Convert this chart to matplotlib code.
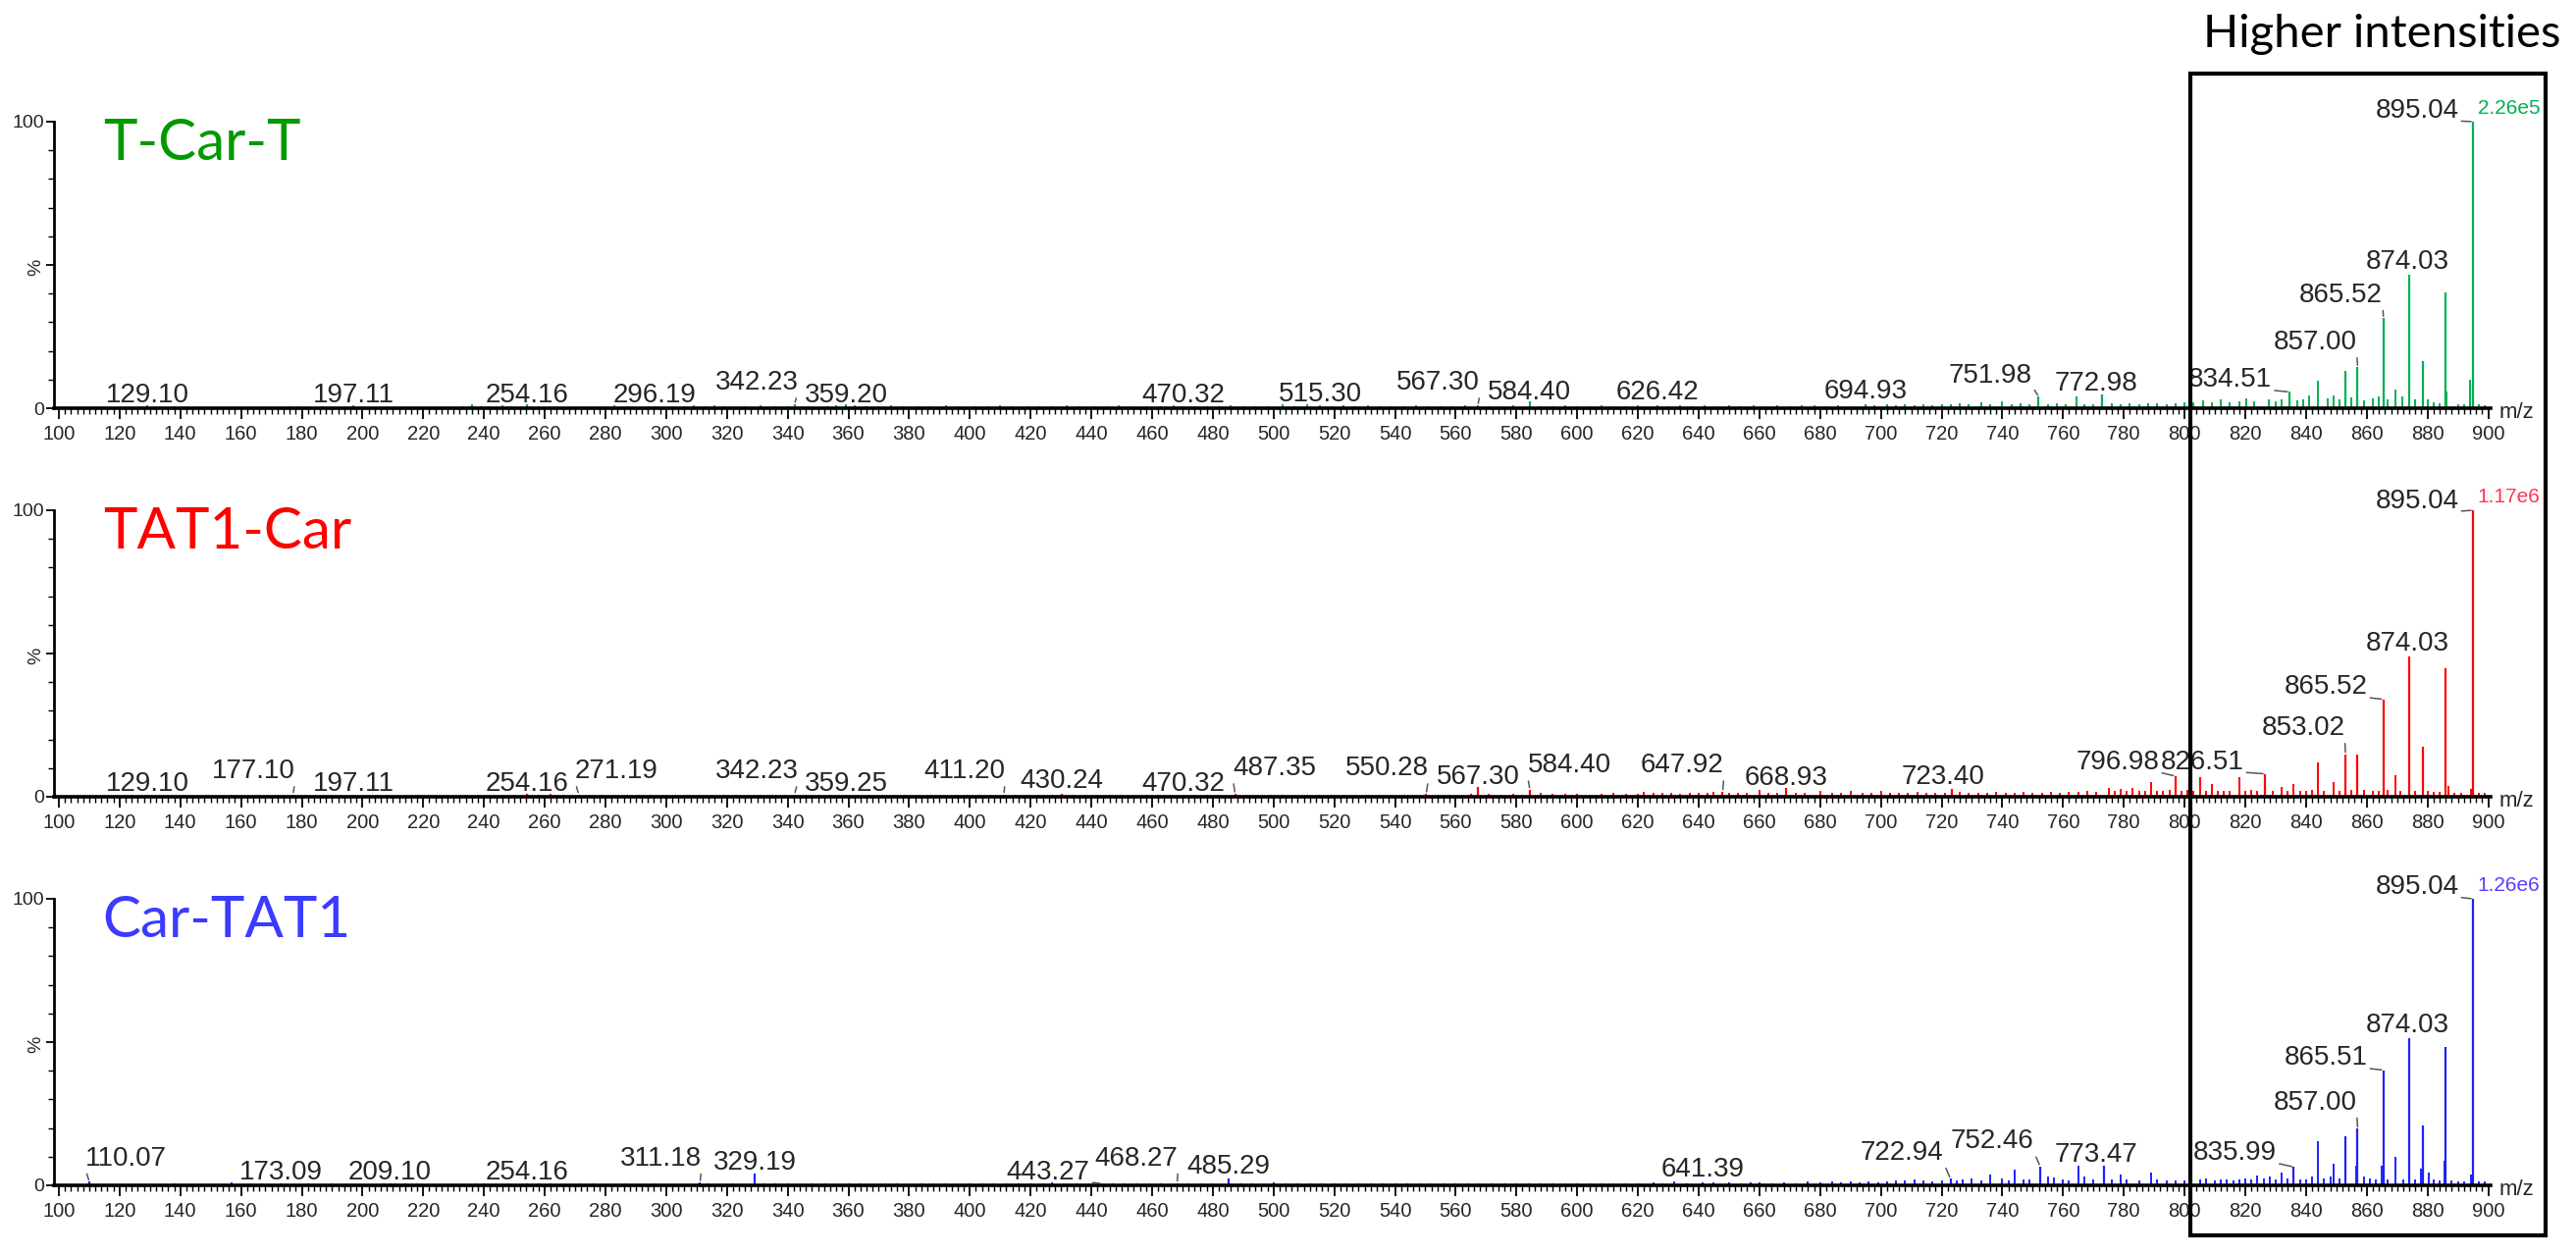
import matplotlib

matplotlib.use('Agg')
import matplotlib.pyplot as plt
from matplotlib.patches import Rectangle

# ---------------------------------------------------------
# DATA (m/z, relative intensity %)
# ---------------------------------------------------------
names = ['T-Car-T', 'TAT1-Car', 'Car-TAT1']
base_peak = ['2.26e5', '1.17e6', '1.26e6']

# T-Car-T
tct_mz = [129.10, 197.11, 254.16, 296.19, 342.23, 359.20, 470.32, 515.30, 567.30, 584.40,
          626.42, 694.93, 751.98, 772.98, 834.51, 853.02, 857.00, 865.52, 874.03, 878.53,
          886.03, 895.04]
tct_int = [1.0, 1.0, 1.2, 0.8, 1.5, 1.2, 0.8, 1.0, 1.0, 2.5,
           1.0, 1.2, 4.0, 4.7, 5.7, 13.0, 14.3, 31.4, 46.5, 16.6,
           40.3, 100.0]
tct_noise_mz = [126, 138, 176, 179, 184, 187, 193, 200, 233, 236, 239, 242, 246, 249, 258, 263,
                279, 283, 287, 292, 302, 306, 309, 313, 316, 319, 323, 326, 331, 336, 340, 347,
                353, 356, 362, 366, 370, 374, 378, 383, 387, 392, 396, 402, 406, 410, 414, 419,
                423, 427, 432, 436, 441, 445, 449, 453, 458, 463, 467, 474, 478, 482, 486, 490,
                494, 498, 503, 507, 511, 519, 523, 527, 531, 535, 539, 543, 547, 551, 555, 559,
                563, 571, 575, 579, 588, 592, 596, 600, 604, 608, 612, 616, 620, 630, 634, 638,
                642, 646, 650, 654, 658, 662, 666, 670, 674, 678, 682, 686, 690, 698, 702, 705,
                708, 711, 714, 717, 720, 723, 726, 729, 733, 736, 740, 743, 746, 749, 755, 758,
                761, 764.5, 767, 770, 776, 779, 782, 785, 788, 791, 794, 797, 800, 803, 806, 809,
                812, 815, 818, 820.4, 823, 827.7, 830, 832, 837, 839, 841, 843.9, 847, 849, 851,
                855, 859, 862, 864, 867, 869.5, 871.6, 876, 880, 882, 884, 886.2, 890, 892, 894,
                897, 899]
tct_noise_int = [0.5, 0.6, 0.8, 0.6, 0.5, 0.7, 0.5, 0.6, 0.7, 1.3, 0.8, 0.6, 0.9, 0.7, 0.6, 0.5,
                 0.7, 1.0, 0.6, 0.5, 0.8, 0.6, 0.9, 0.7, 1.0, 0.6, 0.8, 0.7, 0.9, 0.6, 0.7, 0.6,
                 0.8, 1.1, 0.9, 0.6, 0.7, 0.9, 0.6, 0.8, 0.7, 0.9, 0.6, 0.8, 0.6, 0.9, 0.7, 0.6,
                 0.8, 0.7, 0.9, 0.6, 0.8, 0.7, 1.0, 0.6, 0.8, 0.7, 0.9, 0.6, 0.8, 0.7, 1.0, 0.6,
                 0.8, 0.7, 1.2, 0.8, 1.3, 0.7, 0.9, 0.6, 1.0, 0.7, 0.8, 0.6, 0.9, 0.7, 0.8, 0.6,
                 0.9, 0.8, 0.6, 0.9, 0.8, 0.7, 0.9, 0.8, 0.7, 1.0, 0.8, 0.6, 0.9, 0.8, 1.0, 0.7,
                 0.9, 0.7, 1.1, 0.8, 0.9, 0.7, 1.0, 0.8, 1.1, 0.9, 0.7, 1.0, 0.8, 1.0, 1.2, 0.9,
                 1.3, 1.0, 1.4, 1.1, 1.5, 1.2, 1.6, 1.3, 2.0, 1.4, 2.5, 1.5, 1.8, 1.4, 1.3, 1.6,
                 1.4, 4.0, 1.5, 1.3, 1.6, 1.4, 1.7, 1.5, 1.8, 1.6, 1.4, 1.7, 2.0, 2.2, 2.8, 2.0,
                 3.0, 2.2, 2.5, 3.5, 2.4, 3.0, 2.5, 3.0, 2.6, 3.2, 4.5, 9.7, 3.5, 4.5, 3.0,
                 3.6, 2.8, 3.5, 4.0, 3.0, 6.5, 4.0, 3.2, 3.0, 2.0, 1.8, 5.7, 1.2, 1.5, 10.0,
                 1.2, 1.0]

# TAT1-Car
tc_mz = [129.10, 177.10, 197.11, 254.16, 271.19, 342.23, 359.25, 411.20, 430.24, 470.32,
         487.35, 550.28, 567.30, 584.40, 647.92, 668.93, 723.40, 796.98, 826.51, 853.02,
         857.00, 865.52, 874.03, 878.53, 886.03, 895.04]
tc_int = [0.8, 0.8, 0.8, 0.9, 0.8, 0.8, 0.7, 0.8, 0.9, 0.8,
          1.0, 1.0, 3.5, 2.5, 1.8, 3.0, 2.8, 7.2, 8.0, 14.8,
          14.8, 34.0, 48.9, 17.6, 44.9, 100.0]
tc_noise_mz = [112, 124, 133, 141, 150, 157, 166, 171, 181, 186, 193, 205, 208, 213, 219, 226,
               234, 238, 242, 246, 250, 258, 262, 266, 275, 279, 283, 287, 291, 295, 299, 303,
               307, 311, 315, 319, 323, 327, 331, 335, 339, 346, 350, 354, 363, 367, 371, 375,
               379, 383, 387, 391, 395, 399, 403, 407, 415, 419, 423, 427, 434, 438, 442, 446,
               450, 454, 458, 462, 466, 474, 478, 482, 491, 495, 499, 503, 507, 511, 515, 519,
               523, 527, 531, 535, 539, 543, 546, 554, 558, 562, 565, 571, 575, 579, 588, 592,
               596, 600, 604, 608, 612, 616, 620, 622, 625, 628, 631, 634, 637, 640, 643, 645,
               650, 653, 656, 660, 663, 666, 672, 675, 680, 684, 687, 690, 694, 697, 700, 703,
               706, 709, 712, 715, 718, 721, 726, 729, 732, 735, 738, 741, 744, 747, 750, 753,
               756, 759, 762, 765, 768, 771, 775, 777, 779, 781, 783, 785, 787, 789, 791, 793,
               795, 799, 801, 803, 805, 807, 809, 811, 813, 815, 818, 820, 822, 824, 829, 832,
               834, 836, 838, 840, 842, 844, 846, 849, 851, 855, 859, 862, 864, 867, 869.5, 871,
               876, 880, 882, 884, 886.9, 889, 891, 894.2, 897, 899]
tc_noise_int = [0.5, 0.6, 0.5, 0.6, 0.5, 0.6, 0.5, 0.7, 0.6, 0.5, 0.7, 0.8, 0.6, 0.5, 0.6, 0.5,
                0.6, 0.7, 0.5, 0.8, 0.6, 0.7, 0.9, 0.6, 0.7, 0.8, 0.6, 0.7, 0.6, 0.8, 0.6, 0.7,
                0.6, 0.8, 0.6, 0.7, 0.6, 0.8, 0.6, 0.7, 0.6, 0.8, 0.6, 0.7, 0.8, 0.6, 0.7, 0.6,
                0.8, 0.6, 0.7, 0.6, 0.8, 0.6, 0.7, 0.6, 0.8, 0.6, 0.7, 0.6, 0.8, 0.6, 0.7, 0.6,
                0.8, 0.6, 0.7, 0.6, 0.8, 0.7, 0.6, 0.8, 0.7, 0.6, 0.8, 0.6, 0.7, 0.6, 0.8, 0.6,
                0.7, 0.6, 0.8, 0.6, 0.7, 0.6, 0.8, 0.7, 0.6, 0.8, 0.9, 1.0, 0.8, 1.1, 1.2, 0.9,
                1.0, 0.9, 0.8, 1.0, 1.2, 0.9, 1.1, 1.6, 1.5, 1.2, 1.5, 1.1, 1.3, 1.5, 1.2, 1.6,
                1.3, 1.2, 1.4, 2.5, 1.3, 1.2, 1.4, 1.2, 2.0, 1.3, 1.2, 2.0, 1.3, 1.4, 2.0, 1.4,
                1.5, 1.3, 1.6, 1.4, 1.5, 1.3, 1.6, 1.4, 1.5, 1.3, 1.6, 1.5, 1.4, 1.6, 1.5, 1.4,
                1.6, 1.5, 1.7, 1.6, 2.0, 1.8, 3.2, 2.0, 2.8, 2.2, 3.0, 2.0, 2.2, 5.0, 2.2, 2.0,
                2.5, 2.0, 2.5, 2.0, 6.8, 2.2, 4.5, 2.0, 2.0, 2.2, 6.8, 2.0, 2.5, 2.2, 2.0, 3.4,
                2.2, 4.5, 2.0, 2.0, 2.5, 12.0, 2.2, 5.0, 2.0, 2.5, 2.5, 2.0, 2.2, 2.5, 7.4, 2.0,
                2.0, 2.0, 1.8, 1.8, 3.7, 1.5, 1.5, 2.8, 1.3, 1.2]

# Car-TAT1
ct_mz = [110.07, 173.09, 209.10, 254.16, 311.18, 329.19, 443.27, 468.27, 485.29, 641.39,
         722.94, 752.46, 773.47, 835.99, 853.02, 857.00, 865.51, 874.03, 878.53, 886.03,
         895.04]
ct_int = [1.2, 0.8, 0.8, 0.7, 1.0, 4.0, 0.7, 0.8, 2.5, 1.0,
          2.3, 6.6, 6.8, 6.4, 17.0, 19.7, 40.2, 51.3, 21.0, 48.2,
          100.0]
ct_noise_mz = [138, 157, 167, 182, 186, 190, 203, 207, 211, 214, 218, 237, 240, 244, 248, 258,
               262, 266, 272, 276, 280, 286, 290, 296, 300, 314, 318, 322, 332, 336, 340, 344,
               348, 352, 356, 360, 364, 368, 372, 376, 380, 384, 388, 392, 396, 400, 404, 408,
               412, 416, 420, 424, 427, 431, 435, 439, 447, 451, 455, 459, 463, 472, 476, 480,
               489, 493, 497, 500, 504, 508, 512, 516, 520, 524, 528, 532, 536, 540, 544, 548,
               552, 556, 560, 564, 568, 572, 576, 580, 584, 588, 592, 596, 600, 604, 608, 612,
               616, 620, 625, 628, 632, 636, 645, 650, 654, 657, 660, 664, 668, 672, 676, 680,
               684, 687, 690, 693, 696, 699, 702, 705, 708, 711, 714, 717, 720, 725, 727, 730,
               733, 736, 740, 742, 744, 747, 749, 755, 757, 760, 762, 765, 767, 770, 776, 779,
               781, 785, 789, 791, 794, 797, 800, 802, 805, 807, 810, 812, 814, 816, 818, 820,
               822, 824, 826, 828, 830, 832, 834, 838, 840, 842, 844, 846, 848, 849, 851, 856.5,
               859, 861, 863, 865, 867, 869.5, 872, 876, 878, 880.5, 882, 884, 885.5, 888, 890,
               892, 894.2, 897, 899]
ct_noise_int = [0.6, 1.0, 0.8, 0.6, 0.5, 0.6, 0.5, 0.7, 0.6, 0.8, 0.6, 0.6, 0.7, 0.5, 0.6, 0.6,
                0.7, 0.5, 0.6, 0.7, 0.5, 0.6, 0.5, 0.6, 0.5, 0.6, 0.5, 0.6, 0.6, 0.7, 0.6, 0.5,
                0.7, 0.6, 0.5, 0.7, 0.6, 0.5, 0.7, 0.6, 0.5, 0.6, 0.7, 0.6, 0.5, 0.7, 0.6, 0.7,
                0.6, 0.7, 0.6, 0.7, 1.0, 0.6, 0.7, 0.6, 0.7, 0.6, 0.7, 0.6, 0.7, 0.6, 0.7, 0.6,
                0.7, 0.6, 0.7, 0.9, 0.6, 0.7, 0.6, 0.7, 0.8, 0.6, 0.7, 0.6, 0.7, 0.6, 0.7, 0.6,
                0.7, 0.6, 0.7, 0.6, 0.7, 0.6, 0.7, 0.6, 0.7, 0.6, 0.7, 0.6, 0.8, 0.7, 0.6, 0.7,
                0.6, 0.7, 1.0, 0.8, 1.2, 0.8, 0.9, 1.0, 0.8, 0.9, 1.1, 0.8, 0.9, 0.8, 1.2, 0.9,
                1.3, 1.0, 1.2, 1.0, 1.4, 1.1, 1.5, 1.8, 1.6, 2.0, 1.7, 1.5, 1.8, 1.6, 2.0, 2.5,
                1.8, 3.8, 2.5, 1.8, 5.5, 2.0, 2.2, 3.0, 2.8, 2.0, 1.8, 6.8, 3.0, 2.0, 2.0, 3.8,
                2.0, 1.8, 4.3, 2.0, 1.8, 1.6, 1.8, 1.8, 2.0, 2.5, 1.8, 2.0, 2.2, 1.8, 2.0, 2.5,
                2.0, 3.5, 2.5, 3.0, 2.0, 4.3, 2.5, 2.2, 2.0, 3.0, 15.5, 2.5, 3.0, 7.5, 2.5, 7.0,
                3.0, 2.5, 2.0, 7.0, 2.0, 10.0, 2.0, 2.0, 5.7, 4.3, 2.0, 1.8, 8.5, 1.8, 1.5,
                1.5, 3.8, 1.5, 1.3]

peaks_mz = [tct_mz, tc_mz, ct_mz]
peaks_int = [tct_int, tc_int, ct_int]
noise_mz = [tct_noise_mz, tc_noise_mz, ct_noise_mz]
noise_int = [tct_noise_int, tc_noise_int, ct_noise_int]

# label placement: m/z -> (shift in m/z, label baseline in %); peaks not listed stay unlabelled
label_layout = [
    {129.10: (0, 2), 197.11: (0, 2), 254.16: (0, 2), 296.19: (0, 2),
     342.23: (-12.5, 6.5), 359.20: (0, 2.2), 470.32: (0, 2.2), 515.30: (0, 2.5),
     567.30: (-13, 6.5), 584.40: (0, 3), 626.42: (0, 3), 694.93: (0, 3.5),
     751.98: (-16, 9), 772.98: (-2, 6), 834.51: (-19.5, 7.4), 857.00: (-14, 20.6),
     865.52: (-14, 37.1), 874.03: (-0.5, 48.8), 895.04: (-18.5, 101.4)},
    {129.10: (0, 2), 177.10: (-13, 6.5), 197.11: (0, 2), 254.16: (0, 2),
     271.19: (12.5, 6.5), 342.23: (-12.5, 6.5), 359.25: (0, 2), 411.20: (-13, 6.5),
     430.24: (0, 3), 470.32: (0, 2), 487.35: (13, 7.5), 550.28: (-13, 7.5),
     567.30: (0, 4.5), 584.40: (13, 8.5), 647.92: (-13.3, 8.5), 668.93: (0, 4),
     723.40: (-3, 4.5), 796.98: (-19, 9.7), 826.51: (-20.7, 9.7), 853.02: (-14, 21.6),
     865.52: (-19, 35.8), 874.03: (-0.5, 51), 895.04: (-18.5, 100.8)},
    {110.07: (12, 7), 173.09: (0, 2), 209.10: (0, 2), 254.16: (0, 2),
     311.18: (-13, 7), 329.19: (0, 5.5), 443.27: (-17.5, 2.2), 468.27: (-13.4, 7),
     485.29: (0, 4), 641.39: (0, 3), 722.94: (-16, 9), 752.46: (-15.8, 12.9),
     773.47: (-2.5, 8.3), 835.99: (-19.4, 8.9), 857.00: (-14, 26.5), 865.51: (-19, 42),
     874.03: (-0.5, 53.3), 895.04: (-18.5, 101.7)},
]

stick_colors = ['#00B050', '#FF0000', '#2020FF']
title_colors = ['#009A00', '#FF0000', '#3B3BFF']
base_colors = ['#00B050', '#FF3355', '#5A3CFF']

NARROW = ['Liberation Sans Narrow', 'Liberation Sans', 'DejaVu Sans']
TITLE_FONT = ['Lato', 'DejaVu Sans']
TXT = '#262626'

# ---------------------------------------------------------
# FIGURE
# ---------------------------------------------------------
W, H = 2625, 1279
fig = plt.figure(figsize=(W / 100, H / 100), dpi=100)

ax_left, ax_right = 55, 2538
for i in range(3):
    top = 124 + 396 * i
    bot = 416 + 396 * i
    ax = fig.add_axes([ax_left / W, 1 - bot / H, (ax_right - ax_left) / W, (bot - top) / H])

    ax.vlines(noise_mz[i], 0, noise_int[i], color=stick_colors[i], lw=1.4)
    ax.vlines(peaks_mz[i], 0, peaks_int[i], color=stick_colors[i], lw=1.6)

    ax.set_xlim(98.4, 900.8)
    ax.set_ylim(0, 100)
    for s in ['top', 'right']:
        ax.spines[s].set_visible(False)
    ax.spines['left'].set_linewidth(2)
    ax.spines['bottom'].set_linewidth(2.6)

    ax.set_xticks(range(100, 901, 20))
    ax.set_xticks(range(100, 901, 2), minor=True)
    ax.tick_params(axis='x', which='major', length=8, width=1.3, pad=4, labelsize=14.5)
    ax.tick_params(axis='x', which='minor', length=4, width=1)
    ax.set_yticks([0, 50, 100])
    ax.set_yticks(range(0, 101, 10), minor=True)
    ax.set_yticklabels(['0', '%', '100'])
    ax.tick_params(axis='y', which='major', length=6, width=1.3, pad=1, labelsize=14)
    ax.tick_params(axis='y', which='minor', length=4, width=1)
    ax.get_yticklabels()[1].set_rotation(90)
    for lab in ax.get_xticklabels() + ax.get_yticklabels():
        lab.set_family(NARROW)
        lab.set_color(TXT)

    # peak labels
    for mz, inten in zip(peaks_mz[i], peaks_int[i]):
        if mz not in label_layout[i]:
            continue
        dx, ybase = label_layout[i][mz]
        props = None
        if abs(dx) > 5:
            props = dict(arrowstyle='-', color='#555555', lw=1.1, shrinkA=0, shrinkB=1.5,
                         relpos=(1, 0.1) if dx < 0 else (0, 0.1))
        ax.annotate(f'{mz:.2f}', xy=(mz, inten), xytext=(mz + dx, ybase),
                    ha='center', va='baseline', fontsize=20, family=NARROW, color=TXT,
                    arrowprops=props, annotation_clip=False)

    ax.text(917, 104.5, base_peak[i], ha='right', va='center', fontsize=15,
            family=NARROW, color=base_colors[i], clip_on=False)
    ax.text(903.5, -1.7, 'm/z', ha='left', va='center', fontsize=16, family=NARROW, color=TXT)
    ax.text(0.02, 1.015, names[i], transform=ax.transAxes, ha='left', va='top',
            fontsize=42, family=TITLE_FONT, color=title_colors[i])

# highlight box
box = Rectangle((2232 / W, 1 - 1259 / H), 362 / W, 1184 / H, transform=fig.transFigure,
                fill=False, edgecolor='black', lw=3)
fig.add_artist(box)
fig.text(2427 / W, 1 - 35 / H, 'Higher intensities', ha='center', va='center',
         fontsize=34, family=TITLE_FONT, color='black')

fig.savefig('out.png', dpi=100)
